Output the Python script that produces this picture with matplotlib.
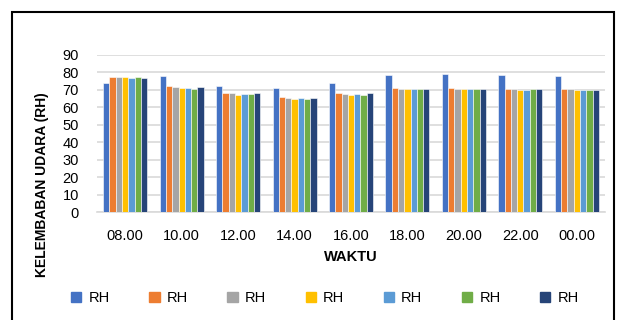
import numpy as np
import matplotlib
matplotlib.use("Agg")
import matplotlib.pyplot as plt
from matplotlib.patches import Patch, Rectangle

plt.rcParams['font.family'] = ['Liberation Sans', 'DejaVu Sans']

waktu = ['08.00', '10.00', '12.00', '14.00', '16.00', '18.00', '20.00', '22.00', '00.00']

# kelembaban tiap seri per jam
rh1 = [73.7, 78.1, 72.5, 71.0, 73.8, 78.7, 79.0, 78.5, 77.9]
rh2 = [77.3, 72.3, 68.3, 65.8, 68.5, 71.0, 70.8, 70.6, 70.4]
rh3 = [77.3, 71.7, 68.1, 65.4, 67.7, 70.6, 70.6, 70.6, 70.4]
rh4 = [77.3, 71.3, 67.1, 64.6, 67.1, 70.6, 70.6, 70.2, 70.0]
rh5 = [76.7, 71.2, 67.7, 65.6, 67.7, 70.6, 70.6, 70.2, 70.0]
rh6 = [77.3, 70.6, 67.7, 64.8, 67.3, 70.6, 70.6, 70.4, 70.2]
rh7 = [76.7, 71.7, 68.3, 65.6, 68.1, 70.6, 70.6, 70.4, 70.0]
series = [rh1, rh2, rh3, rh4, rh5, rh6, rh7]
labels = ['RH'] * 7
colors = ['#4472C4', '#ED7D31', '#A5A5A5', '#FFC000', '#5B9BD5', '#70AD47', '#264478']

fig = plt.figure(figsize=(6.19, 3.2), dpi=100)
fig.patches.append(Rectangle((12 / 619, -0.01), 602 / 619, (320 - 12) / 320 + 0.01,
                             transform=fig.transFigure, fill=False,
                             edgecolor='black', linewidth=1.5))
ax = fig.add_axes([97 / 619, 108 / 320, 508 / 619, 157 / 320])

x = np.arange(len(waktu))
w = 0.78 / 7
for i, s in enumerate(series):
    ax.bar(x - 0.39 + w * (i + 0.5), s, width=w, color=colors[i],
           edgecolor='white', linewidth=0.4, zorder=3)

ax.set_xlim(-0.5, len(waktu) - 0.5)
ax.set_ylim(0, 90)
ax.set_yticks(range(0, 91, 10))
ax.set_xticks(x)
ax.set_xticklabels(waktu, fontsize=10.5)
ax.tick_params(axis='y', labelsize=10.5, length=0, pad=13)
ax.tick_params(axis='x', length=0, pad=12)
ax.grid(axis='y', color='#D9D9D9', linewidth=1.2, zorder=0)
for sp in ['top', 'right', 'left']:
    ax.spines[sp].set_visible(False)
ax.spines['bottom'].set_color('#D9D9D9')
ax.spines['bottom'].set_linewidth(1.2)

ax.set_xlabel('WAKTU', fontsize=10.5, fontweight='bold', labelpad=5)
fig.text(42 / 619, 0.423, 'KELEMBABAN UDARA (RH)', rotation=90, fontsize=10,
         fontweight='bold', ha='center', va='center')

handles = [Patch(color=c) for c in colors]
fig.legend(handles, labels, loc='center', bbox_to_anchor=(0.525, 0.069), ncol=7,
           frameon=False, fontsize=10.5, handlelength=0.7, handleheight=0.7,
           handletextpad=0.5, columnspacing=2.7)

fig.savefig('out.png', dpi=100)
